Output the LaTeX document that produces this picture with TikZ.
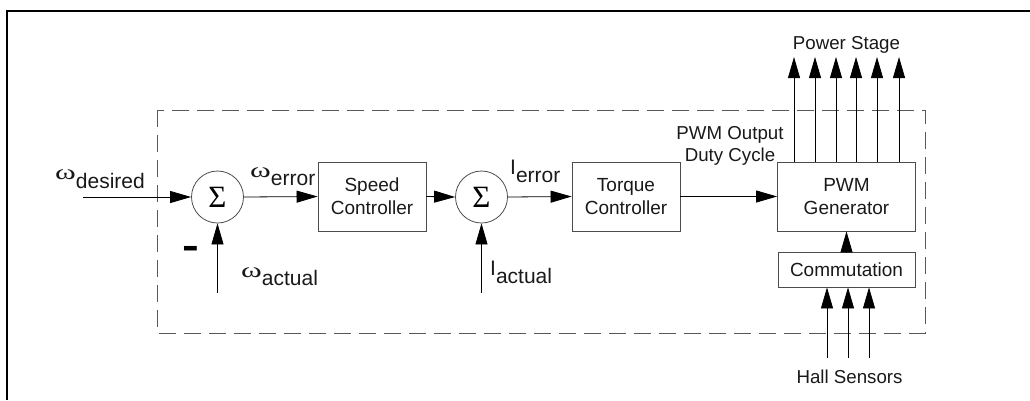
\documentclass[tikz,border=0pt]{standalone}
\usepackage{fontspec}
\setmainfont{Liberation Sans}
\newfontfamily\grk{Liberation Serif}
\usetikzlibrary{arrows.meta}
\newcommand\omg{{\grk\fontsize{21}{21}\selectfont\scalebox{1.5}[1]{ω}}}
\begin{document}
\begin{tikzpicture}[x=1pt,y=-1pt,
  box/.style={draw=black!70, line width=0.8pt, inner sep=0pt, align=center, font=\fontsize{19}{23}\selectfont, text=black!90},
  sumc/.style={circle, draw=black!70, line width=0.8pt, minimum size=52pt, inner sep=0pt},
  lbl/.style={inner sep=0pt, font=\fontsize{21}{25}\selectfont, anchor=base west, text=black!90},
  txt/.style={inner sep=0pt, font=\fontsize{18.7}{22}\selectfont, text=black!90},
  conn/.style={line width=0.8pt, -{Triangle[length=21pt,width=12pt]}},
  dbox/.style={draw=black!65, line width=0.8pt, dash pattern=on 17pt off 8pt},
  frame/.style={line width=2pt}
]
\useasboundingbox (0,0) rectangle (1030,400);
\draw[frame] (7,400) -- (7,11) -- (1030,11);
\draw[dbox] (157,110) rectangle (925,333);

% blocks
\node[sumc] (s1) at (217.5,197) {\grk\fontsize{31}{31}\selectfont Σ};
\node[box, minimum width=108pt, minimum height=69pt] (speed) at (372,196.5) {Speed\\Controller};
\node[sumc] (s2) at (481.5,197) {\grk\fontsize{31}{31}\selectfont Σ};
\node[box, minimum width=108pt, minimum height=69pt] (torque) at (626,196.5) {Torque\\Controller};
\node[box, minimum width=138pt, minimum height=69pt] (pwm) at (846.5,196.5) {PWM\\Generator};
\node[box, minimum width=137pt, minimum height=35pt] (comm) at (846.5,269.5) {Commutation};

% labels
\node[lbl] (wdes) at (55,188) {\raisebox{9pt}{\omg}desired};
\node[lbl] (werr) at (250,185) {\raisebox{8pt}{\omg}error};
\node[lbl] (wact) at (241,285) {\raisebox{8pt}{\omg}actual};
\node[lbl] (ierr) at (510,182) {\raisebox{8pt}{I}error};
\node[lbl] (iact) at (490,283) {\raisebox{8pt}{I}actual};
\node[inner sep=0pt, font=\bfseries\fontsize{21}{21}\selectfont] (minus) at (191,252) {\scalebox{2.4}[1.8]{-}};
\node[txt, align=center] (pwmout) at (730,146) {PWM Output\\Duty Cycle};
\node[txt, anchor=base] (pstage) at (846.5,49) {Power Stage};
\node[txt, anchor=base] (hall) at (849.5,383) {Hall Sensors};

% free ends
\coordinate (in) at (83,197);
\coordinate (fb1) at (217.5,293);
\coordinate (fb2) at (481.5,293);
\foreach \i/\x in {1/794,2/815,3/836,4/856,5/877,6/899}
  \coordinate (ps\i) at (\x,57);
\foreach \i/\x in {1/827,2/848,3/869}
  \coordinate (h\i) at (\x,358);

% connectors
\draw[conn] (in) -- (s1.west);
\draw[conn] (s1.east) -- (speed.west);
\draw[conn] (speed.east) -- (s2.west);
\draw[conn] (s2.east) -- (torque.west);
\draw[conn] (torque.east) -- (pwm.west);
\draw[conn] (fb1) -- (s1.south);
\draw[conn] (fb2) -- (s2.south);
\draw[conn] (comm.north) -- (pwm.south);
\foreach \i in {1,...,6}
  \draw[conn] (pwm.north -| ps\i) -- (ps\i);
\foreach \i in {1,2,3}
  \draw[conn] (h\i) -- (comm.south -| h\i);
\end{tikzpicture}
\end{document}
